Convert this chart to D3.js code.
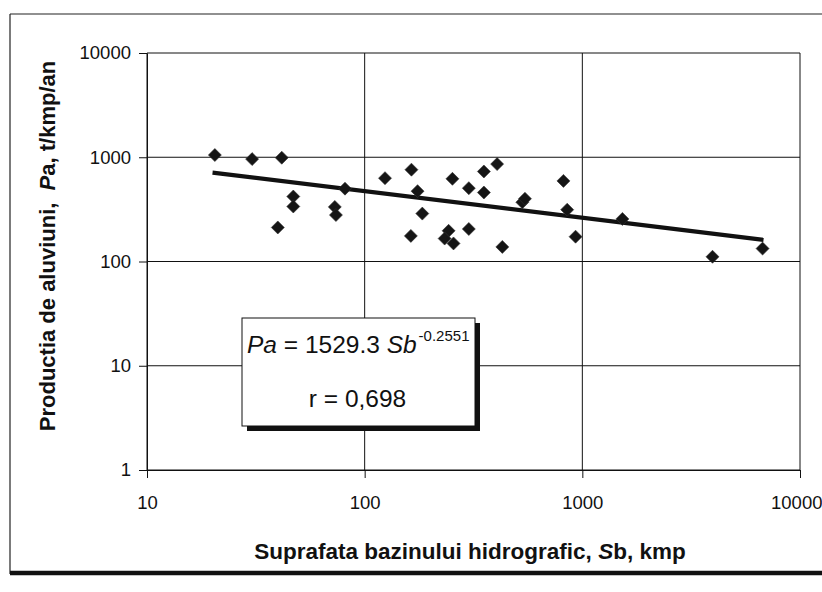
<!DOCTYPE html>
<html>
<head>
<meta charset="utf-8">
<script src="https://cdn.jsdelivr.net/npm/d3@7"></script>
<style>
  html, body { margin: 0; padding: 0; background: #fff; }
  svg { display: block; font-family: "Liberation Sans", Arial, sans-serif; }
</style>
</head>
<body>
<svg id="chart" width="822" height="592"></svg>
<script>
// ---- data ----
const areaSb = [20.5, 30.4, 41.6, 47, 47, 39.9, 81.2, 72.9, 73.8, 124, 164, 175, 184, 163,
                243, 233, 256, 253, 301, 301, 353, 406, 353, 429, 530, 545, 819, 852, 931,
                1528, 3963, 6730];
const prodPa = [1050, 960, 990, 420, 337, 212, 500, 334, 279, 630, 760, 473, 288, 176,
                197, 166, 149, 621, 505, 205, 730, 860, 459, 138, 370, 400, 593, 314, 173,
                256, 111, 133];
const xTicks = [10, 100, 1000, 10000];
const yTicks = [1, 10, 100, 1000, 10000];
const fitA = 1529.3, fitB = -0.2551;
const fitRange = [20, 6800];
const eqText = ["Pa", " = 1529.3 ", "Sb", "-0.2551"];
const rText = "r = 0,698";

// ---- layout ----
const svg = d3.select("#chart");
const L = 147, R = 800, T = 53, B = 470;
const x = d3.scaleLog().domain([10, 10000]).range([L, R]);
const y = d3.scaleLog().domain([1, 10000]).range([B, T]);

// outer frame
svg.append("line").attr("x1", 10).attr("x2", 10).attr("y1", 14).attr("y2", 574)
  .attr("stroke", "#222").attr("stroke-width", 1.2);
svg.append("line").attr("x1", 10).attr("x2", 822).attr("y1", 14).attr("y2", 14)
  .attr("stroke", "#222").attr("stroke-width", 1.2);
svg.append("line").attr("x1", 10).attr("x2", 822).attr("y1", 573).attr("y2", 573)
  .attr("stroke", "#111").attr("stroke-width", 4.5);

// gridlines
const g = svg.append("g");
g.selectAll(".hg").data(yTicks).join("line")
  .attr("x1", L).attr("x2", R).attr("y1", d => y(d)).attr("y2", d => y(d))
  .attr("stroke", "#111").attr("stroke-width", 1);
g.selectAll(".vg").data(xTicks).join("line")
  .attr("y1", T).attr("y2", B).attr("x1", d => x(d)).attr("x2", d => x(d))
  .attr("stroke", "#111").attr("stroke-width", 1);

// axes
const fmt = d3.format("d");
const yAxis = svg.append("g").attr("transform", `translate(${L},0)`)
  .call(d3.axisLeft(y).tickValues(yTicks).tickFormat(fmt).tickSizeInner(8).tickSizeOuter(0).tickPadding(8));
const xAxis = svg.append("g").attr("transform", `translate(0,${B})`)
  .call(d3.axisBottom(x).tickValues(xTicks).tickFormat(fmt).tickSizeInner(8).tickSizeOuter(0).tickPadding(14));
[yAxis, xAxis].forEach(a => {
  a.select(".domain").attr("stroke", "#111");
  a.selectAll(".tick line").attr("stroke", "#111");
  a.selectAll("text").attr("font-size", 18.5).attr("fill", "#111")
    .attr("font-family", "'Liberation Sans', Arial, sans-serif");
});
xAxis.selectAll("text").attr("dy", "0.9em");
xAxis.selectAll(".tick").filter(d => d === 10000).select("text")
  .attr("text-anchor", "end").attr("x", 22);

// regression line
const line = d3.line().x(d => x(d)).y(d => y(fitA * Math.pow(d, fitB)));
svg.append("path").datum(fitRange).attr("d", line)
  .attr("fill", "none").attr("stroke", "#111").attr("stroke-width", 4.2);

// points (diamonds)
const pts = areaSb.map((v, i) => [v, prodPa[i]]);
svg.append("g").selectAll("path").data(pts).join("path")
  .attr("transform", d => `translate(${x(d[0])},${y(d[1])})`)
  .attr("d", "M0,-6.5L6.5,0L0,6.5L-6.5,0Z")
  .attr("fill", "#151515").attr("stroke", "#333").attr("stroke-width", 0.6);

// annotation box
const bx = 242, by = 318, bw = 233, bh = 108;
svg.append("rect").attr("x", bx + 5).attr("y", by + 5).attr("width", bw).attr("height", bh).attr("fill", "#111");
svg.append("rect").attr("x", bx).attr("y", by).attr("width", bw).attr("height", bh)
  .attr("fill", "#fff").attr("stroke", "#111").attr("stroke-width", 1);
const eq = svg.append("text").attr("x", bx + 5).attr("y", by + 35).attr("font-size", 24.5).attr("fill", "#111");
eq.append("tspan").attr("font-style", "italic").text(eqText[0]);
eq.append("tspan").style("white-space", "pre").text(eqText[1]);
eq.append("tspan").attr("font-style", "italic").text(eqText[2]);
eq.append("tspan").attr("font-size", 15).attr("dy", -12).attr("dx", 2).text(eqText[3]);
svg.append("text").attr("x", bx + bw / 2 - 1).attr("y", by + 89).attr("text-anchor", "middle")
  .attr("font-size", 24.5).attr("fill", "#111").text(rText);

// axis titles
const yt = svg.append("text").attr("transform", "translate(55,246) rotate(-90)")
  .attr("text-anchor", "middle").attr("font-weight", "bold").attr("font-size", 22).attr("fill", "#111")
  .style("white-space", "pre");
yt.append("tspan").text("Productia de aluviuni,  ");
yt.append("tspan").attr("font-style", "italic").text("P");
yt.append("tspan").text("a, t/kmp/an");

const xt = svg.append("text").attr("x", 470).attr("y", 559)
  .attr("text-anchor", "middle").attr("font-weight", "bold").attr("font-size", 22.5).attr("fill", "#111")
  .style("white-space", "pre");
xt.append("tspan").text("Suprafata bazinului hidrografic, ");
xt.append("tspan").attr("font-style", "italic").text("S");
xt.append("tspan").text("b, kmp");
</script>
</body>
</html>
